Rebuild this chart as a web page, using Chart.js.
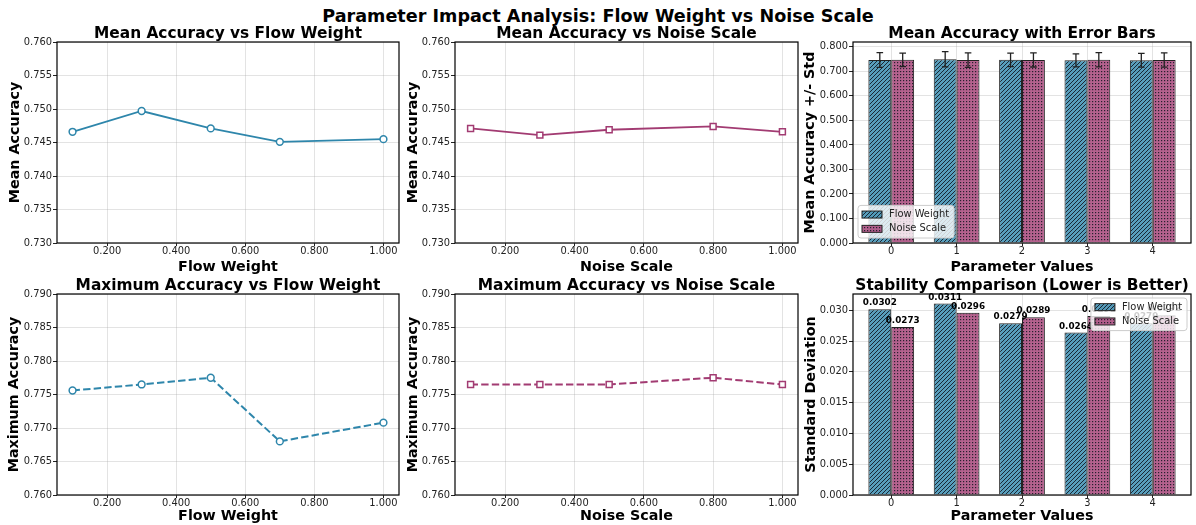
<!DOCTYPE html>
<html lang="en">
<head>
<meta charset="UTF-8">
<title>Parameter Impact Analysis: Flow Weight vs Noise Scale</title>
<script src="https://cdn.jsdelivr.net/npm/chart.js"></script>
<style>
    body {
        margin: 0;
        width: 1196px;
        height: 525px;
        position: relative;
        overflow: hidden;
        background: #fff;
        font-family: 'DejaVu Sans', sans-serif;
    }
    h1 {
        position: absolute;
        left: 0;
        top: 6px;
        width: 1196px;
        margin: 0;
        text-align: center;
        font-size: 17.6px;
        line-height: 20px;
        font-weight: bold;
        color: #000;
    }
    canvas { position: absolute; }
</style>
</head>
<body>

<h1>Parameter Impact Analysis: Flow Weight vs Noise Scale</h1>
<canvas id="meanFlow" width="400" height="254" style="left:0;top:22px"></canvas>
<canvas id="meanNoise" width="400" height="254" style="left:400px;top:22px"></canvas>
<canvas id="meanBars" width="396" height="254" style="left:800px;top:22px"></canvas>
<canvas id="maxFlow" width="400" height="249" style="left:0;top:276px"></canvas>
<canvas id="maxNoise" width="400" height="249" style="left:400px;top:276px"></canvas>
<canvas id="stdBars" width="396" height="249" style="left:800px;top:276px"></canvas>

<script>
// valores
const flowWeights = [0.1, 0.3, 0.5, 0.7, 1.0];
const noiseScales = [0.1, 0.3, 0.5, 0.8, 1.0];
const flowMeanAcc = [0.7466, 0.7497, 0.7471, 0.7451, 0.7455];
const noiseMeanAcc = [0.7471, 0.7461, 0.7469, 0.7474, 0.7466];
const flowMaxAcc = [0.7756, 0.7765, 0.7775, 0.7680, 0.7708];
const noiseMaxAcc = [0.7765, 0.7765, 0.7765, 0.7775, 0.7765];
const flowStd = [0.0302, 0.0311, 0.0279, 0.0264, 0.0279];
const noiseStd = [0.0273, 0.0296, 0.0289, 0.0291, 0.0292];
const paramIndex = [0, 1, 2, 3, 4];

const paramTicks = [0.2, 0.4, 0.6, 0.8, 1.0];
const meanTicks = [0.730, 0.735, 0.740, 0.745, 0.750, 0.755, 0.760];
const maxTicks = [0.760, 0.765, 0.770, 0.775, 0.780, 0.785, 0.790];
const barMeanTicks = [0, 0.1, 0.2, 0.3, 0.4, 0.5, 0.6, 0.7, 0.8];
const stdTicks = [0, 0.005, 0.010, 0.015, 0.020, 0.025, 0.030];

const BLUE = '#2E86AB';
const MAGENTA = '#A23B72';
const gridColor = 'rgba(176,176,176,0.35)';

Chart.defaults.font.family = "'DejaVu Sans', sans-serif";
Chart.defaults.color = '#222';

// hachuras das barras
function makePattern(canvasId, base, kind) {
    const n = kind === 'diag' ? 4 : 3;
    const tile = document.createElement('canvas');
    tile.width = n; tile.height = n;
    const g = tile.getContext('2d');
    g.fillStyle = base;
    g.fillRect(0, 0, n, n);
    g.fillStyle = g.strokeStyle = 'rgba(15,20,30,0.85)';
    if (kind === 'diag') {
        g.lineWidth = 1;
        g.beginPath();
        [-n, 0, n].forEach(k => { g.moveTo(k, n); g.lineTo(k + n, 0); });
        g.stroke();
    } else {
        g.fillRect(1, 1, 1.2, 1.2);
    }
    return document.getElementById(canvasId).getContext('2d').createPattern(tile, 'repeat');
}

// moldura preta em volta da área do gráfico
const framePlugin = {
    id: 'frame',
    afterDatasetsDraw(chart) {
        const a = chart.chartArea, ctx = chart.ctx;
        ctx.save();
        ctx.strokeStyle = '#000';
        ctx.lineWidth = 1.2;
        ctx.strokeRect(a.left, a.top, a.right - a.left, a.bottom - a.top);
        ctx.restore();
    }
};

// barras de erro (media +/- std)
const errorBarPlugin = {
    id: 'errorBars',
    afterDatasetsDraw(chart) {
        const ctx = chart.ctx, yScale = chart.scales.y;
        ctx.save();
        ctx.strokeStyle = '#222';
        ctx.lineWidth = 1.3;
        chart.data.datasets.forEach((ds, di) => {
            if (!ds.errors) return;
            chart.getDatasetMeta(di).data.forEach((bar, i) => {
                const v = ds.data[i].y, e = ds.errors[i];
                const top = yScale.getPixelForValue(v + e), bot = yScale.getPixelForValue(v - e);
                ctx.beginPath();
                ctx.moveTo(bar.x, top); ctx.lineTo(bar.x, bot);
                ctx.moveTo(bar.x - 3.3, top); ctx.lineTo(bar.x + 3.3, top);
                ctx.moveTo(bar.x - 3.3, bot); ctx.lineTo(bar.x + 3.3, bot);
                ctx.stroke();
            });
        });
        ctx.restore();
    }
};

// rótulos de valor acima das barras
const valueLabelPlugin = {
    id: 'valueLabels',
    afterDatasetsDraw(chart) {
        const ctx = chart.ctx;
        ctx.save();
        ctx.font = "bold 8.8px 'DejaVu Sans'";
        ctx.fillStyle = '#000';
        ctx.textAlign = 'center';
        ctx.textBaseline = 'alphabetic';
        chart.data.datasets.forEach((ds, di) => {
            chart.getDatasetMeta(di).data.forEach((bar, i) => {
                ctx.fillText(ds.data[i].y.toFixed(4), bar.x, bar.y - 4);
            });
        });
        ctx.restore();
    }
};

// legenda dentro da área do gráfico
const boxLegendPlugin = {
    id: 'boxLegend',
    afterDraw(chart, args, opts) {
        const ctx = chart.ctx, a = chart.chartArea;
        const items = chart.data.datasets.map(d => ({ text: d.label, fill: d.backgroundColor }));
        ctx.save();
        ctx.font = "9.9px 'DejaVu Sans'";
        const textW = Math.max(...items.map(it => ctx.measureText(it.text).width));
        const w = 4 + 20 + 7 + textW + 5, h = 4 + items.length * 14.3;
        const x = opts.corner === 'lower left' ? a.left + 5 : a.right - 4 - w;
        const y = opts.corner === 'lower left' ? a.bottom - 5 - h : a.top + 4;
        ctx.fillStyle = 'rgba(255,255,255,0.8)';
        ctx.strokeStyle = '#cccccc';
        ctx.lineWidth = 1;
        ctx.beginPath();
        ctx.roundRect(x, y, w, h, 3);
        ctx.fill();
        ctx.stroke();
        items.forEach((it, i) => {
            const cy = y + 2 + 14.3 * (i + 0.5);
            ctx.fillStyle = it.fill;
            ctx.fillRect(x + 4, cy - 3.5, 20, 7);
            ctx.strokeStyle = '#222';
            ctx.strokeRect(x + 4, cy - 3.5, 20, 7);
            ctx.fillStyle = '#222';
            ctx.textBaseline = 'middle';
            ctx.fillText(it.text, x + 31, cy);
        });
        ctx.restore();
    }
};

function axis(o) {
    return {
        type: 'linear',
        min: o.min,
        max: o.max,
        offset: false,
        afterBuildTicks: s => { s.ticks = o.ticks.map(v => ({ value: v })); },
        afterFit: s => {
            if (s.isHorizontal()) {
                s.height = o.size;
                s.paddingLeft = 0;
                s.paddingRight = 0;
            } else {
                s.width = o.size;
            }
        },
        ticks: {
            font: { size: 9.9, lineHeight: 1 },
            color: '#222',
            padding: o.horizontal ? 0 : 1,
            autoSkip: false,
            maxRotation: 0,
            callback: o.fmt
        },
        grid: { color: gridColor, lineWidth: 1, tickLength: o.horizontal ? 3 : 4, tickColor: '#222', tickWidth: 1, offset: false },
        border: { display: false },
        title: {
            display: true,
            text: o.title,
            color: '#000',
            font: { size: 14.3, weight: 'bold', lineHeight: 1.2 },
            padding: o.horizontal ? { top: 0, bottom: o.titlePad } : { top: o.titlePad, bottom: 0 }
        }
    };
}

function options(p) {
    return {
        responsive: false,
        animation: false,
        devicePixelRatio: 1,
        layout: { autoPadding: false, padding: { left: 0, right: p.padRight, top: 0, bottom: 0 } },
        plugins: {
            legend: { display: false },
            tooltip: { enabled: false },
            title: {
                display: true,
                text: p.title,
                fullSize: false,
                color: '#000',
                font: { size: 15.4, weight: 'bold', lineHeight: 1.0 },
                padding: { top: p.titleTop, bottom: 0 }
            },
            boxLegend: { corner: p.legend }
        },
        scales: {
            x: axis(Object.assign({ horizontal: true, size: p.xSize, titlePad: p.xTitlePad, title: p.xTitle }, p.x)),
            y: axis(Object.assign({ horizontal: false, size: p.ySize, titlePad: p.yTitlePad, title: p.yTitle }, p.y))
        }
    };
}

const fmt3 = v => v.toFixed(3);
const paramX = { min: 0.055, max: 1.045, ticks: paramTicks, fmt: fmt3 };
const indexX = { min: -0.585, max: 4.585, ticks: paramIndex, fmt: v => String(v) };
const topRow = { titleTop: 4.6, xSize: 33, xTitlePad: 0 };
const bottomRow = { titleTop: 2.6, xSize: 30, xTitlePad: 0 };

function lineChart(id, xs, ys, color, marker, dashed, p) {
    return new Chart(document.getElementById(id), {
        type: 'line',
        data: {
            datasets: [{
                data: xs.map((x, i) => ({ x: x, y: ys[i] })),
                borderColor: color,
                borderWidth: dashed ? 2 : 1.8,
                borderDash: dashed ? [7.4, 3.2] : [],
                tension: 0,
                fill: false,
                pointStyle: marker,
                pointRadius: marker === 'rect' ? 4.2 : 3.4,
                pointBackgroundColor: '#fff',
                pointBorderColor: color,
                pointBorderWidth: 1.5
            }]
        },
        options: options(p),
        plugins: [framePlugin]
    });
}

lineChart('meanFlow', flowWeights, flowMeanAcc, BLUE, 'circle', false, Object.assign({
    title: 'Mean Accuracy vs Flow Weight', xTitle: 'Flow Weight', yTitle: 'Mean Accuracy',
    padRight: 1, ySize: 57, yTitlePad: 6.4,
    x: paramX, y: { min: 0.730, max: 0.760, ticks: meanTicks, fmt: fmt3 }
}, topRow));

lineChart('meanNoise', noiseScales, noiseMeanAcc, MAGENTA, 'rect', false, Object.assign({
    title: 'Mean Accuracy vs Noise Scale', xTitle: 'Noise Scale', yTitle: 'Mean Accuracy',
    padRight: 2, ySize: 55, yTitlePad: 4.8,
    x: paramX, y: { min: 0.730, max: 0.760, ticks: meanTicks, fmt: fmt3 }
}, topRow));

lineChart('maxFlow', flowWeights, flowMaxAcc, BLUE, 'circle', true, Object.assign({
    title: 'Maximum Accuracy vs Flow Weight', xTitle: 'Flow Weight', yTitle: 'Maximum Accuracy',
    padRight: 1, ySize: 57, yTitlePad: 5.4,
    x: paramX, y: { min: 0.760, max: 0.790, ticks: maxTicks, fmt: fmt3 }
}, bottomRow));

lineChart('maxNoise', noiseScales, noiseMaxAcc, MAGENTA, 'rect', true, Object.assign({
    title: 'Maximum Accuracy vs Noise Scale', xTitle: 'Noise Scale', yTitle: 'Maximum Accuracy',
    padRight: 2, ySize: 55, yTitlePad: 4.8,
    x: paramX, y: { min: 0.760, max: 0.790, ticks: maxTicks, fmt: fmt3 }
}, bottomRow));

function barChart(id, flowVals, noiseVals, errors, extraPlugins, p) {
    const flowFill = makePattern(id, 'rgba(46,134,171,0.8)', 'diag');
    const noiseFill = makePattern(id, 'rgba(162,59,114,0.8)', 'dots');
    const opts = options(p);
    opts.datasets = { bar: { categoryPercentage: 0.7, barPercentage: 1.0 } };
    return new Chart(document.getElementById(id), {
        type: 'bar',
        data: {
            datasets: [{
                label: 'Flow Weight',
                data: paramIndex.map((x, i) => ({ x: x, y: flowVals[i] })),
                errors: errors ? errors[0] : null,
                backgroundColor: flowFill,
                borderColor: '#222',
                borderWidth: 1
            }, {
                label: 'Noise Scale',
                data: paramIndex.map((x, i) => ({ x: x, y: noiseVals[i] })),
                errors: errors ? errors[1] : null,
                backgroundColor: noiseFill,
                borderColor: '#222',
                borderWidth: 1
            }]
        },
        options: opts,
        plugins: [framePlugin].concat(extraPlugins, [boxLegendPlugin])
    });
}

barChart('meanBars', flowMeanAcc, noiseMeanAcc, [flowStd, noiseStd], [errorBarPlugin], Object.assign({
    title: 'Mean Accuracy with Error Bars', xTitle: 'Parameter Values', yTitle: 'Mean Accuracy +/- Std',
    padRight: 5, ySize: 53, yTitlePad: 1.4, legend: 'lower left',
    x: indexX, y: { min: 0, max: 0.82, ticks: barMeanTicks, fmt: fmt3 }
}, topRow));

barChart('stdBars', flowStd, noiseStd, null, [valueLabelPlugin], Object.assign({
    title: 'Stability Comparison (Lower is Better)', xTitle: 'Parameter Values', yTitle: 'Standard Deviation',
    padRight: 5, ySize: 53, yTitlePad: 3.1, legend: 'upper right',
    x: indexX, y: { min: 0, max: 0.03266, ticks: stdTicks, fmt: fmt3 }
}, bottomRow));
</script>

</body>
</html>
